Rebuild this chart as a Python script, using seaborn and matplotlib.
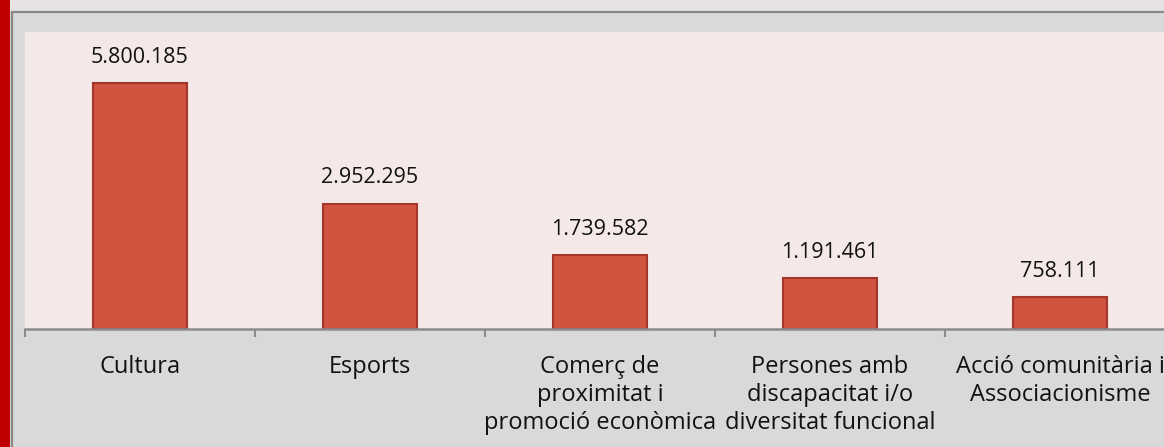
import pandas as pd
import matplotlib.pyplot as plt
import seaborn as sns
from matplotlib.patches import Rectangle
from matplotlib.lines import Line2D

# chart data
categories = ["Cultura", "Esports", "Comerç de\nproximitat i\npromoció econòmica",
              "Persones amb\ndiscapacitat i/o\ndiversitat funcional",
              "Acció comunitària i\nAssociacionisme"]
values = [5800185, 2952295, 1739582, 1191461, 758111]

df = pd.DataFrame({"area": categories, "import": values})

sns.set_theme(style="white")
plt.rcParams["font.family"] = ["Open Sans", "DejaVu Sans"]

W, H = 1164, 447
fig = plt.figure(figsize=(W / 100, H / 100), dpi=100)
fig.patch.set_facecolor("#d9d9d9")

# frame decorations (pixel -> figure fraction)
def fx(px):
    return px / W

def fy(py):
    return 1 - py / H

fig.patches.append(Rectangle((0, fy(11)), 1, 11 / H, transform=fig.transFigure,
                             facecolor="#e7e2e3", edgecolor="none", zorder=0))
fig.patches.append(Rectangle((0, 0), fx(10), 1, transform=fig.transFigure,
                             facecolor="#c00000", edgecolor="none", zorder=1))
fig.lines.append(Line2D([fx(11.5), 1], [fy(11.5), fy(11.5)], transform=fig.transFigure,
                        color="#888888", lw=1.6, zorder=2))
fig.lines.append(Line2D([fx(11.5), fx(11.5)], [0, fy(11.5)], transform=fig.transFigure,
                        color="#888888", lw=1.6, zorder=2))

# axes: 5 categories of 230 px starting at x=25, cropped on the right
ax = fig.add_axes([fx(25), fy(329), 1150 / W, (329 - 32) / H])
ax.set_facecolor("#f5e8e8")

sns.barplot(data=df, x="area", y="import", color="#d0543f", edgecolor="#a3372b",
            linewidth=1.5, width=0.405, saturation=1, ax=ax)

labels = [f"{v:,}".replace(",", ".") for v in values]
ax.bar_label(ax.containers[0], labels=labels, padding=11, fontsize=15.5, color="#111111")

ax.set_xlim(-0.5, 4.5)
ax.set_ylim(0, 7000000)
ax.set_xlabel("")
ax.set_ylabel("")
ax.set_yticks([])
for s in ["top", "right", "left"]:
    ax.spines[s].set_visible(False)
ax.spines["bottom"].set_color("#8c8c8c")
ax.spines["bottom"].set_linewidth(1.8)

ax.set_xticks(range(len(categories)))
ax.set_xticklabels(categories, fontsize=17, color="#111111", linespacing=1.2, va="top")
ax.set_xticks([i - 0.5 for i in range(len(categories) + 1)], minor=True)
ax.tick_params(axis="x", which="major", length=0, pad=19)
ax.tick_params(axis="x", which="minor", bottom=True, length=6, width=1.5,
               color="#8c8c8c", direction="out")

fig.savefig("out.png", dpi=100, facecolor=fig.get_facecolor())
